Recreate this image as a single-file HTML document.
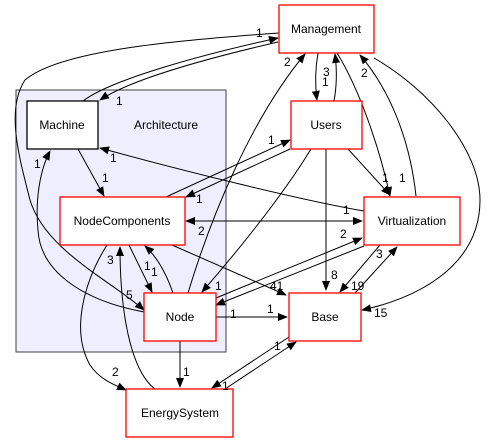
<!DOCTYPE html>
<html><head><style>body{margin:0;background:#fff}svg{display:block}text{font-family:"Liberation Sans",sans-serif;font-size:12px}</style></head><body>
<svg width="492" height="443" viewBox="0 0 492 443">
<defs><marker id="a" markerWidth="10" markerHeight="8" refX="9" refY="4" orient="auto" markerUnits="userSpaceOnUse"><path d="M0,0L10,4L0,8z" fill="#000"/></marker></defs>
<rect x="16" y="90" width="210" height="262" fill="#eeeeff" stroke="#404040" stroke-width="1"/>
<text x="134" y="129" font-size="12">Architecture</text>
<g fill="none" stroke="#000" stroke-width="1">
<path d="M279,33 C180,40 60,50 25,80 C5,110 20,160 30,200 C45,250 110,280 144,310" marker-end="url(#a)"/>
<path d="M83,101 C110,80 200,55 278,38" marker-end="url(#a)"/>
<path d="M278,42 C200,60 130,80 100,100" marker-end="url(#a)"/>
<path d="M78,149 L104,196" marker-end="url(#a)"/>
<path d="M144,312 C80,300 40,270 38,230 C35,200 40,170 50,151" marker-end="url(#a)"/>
<path d="M364,211 C300,200 180,170 100,148" marker-end="url(#a)"/>
<path d="M166,197 L290,140" marker-end="url(#a)"/>
<path d="M290,149 L186,197" marker-end="url(#a)"/>
<path d="M188,221 L362,221" marker-end="url(#a)"/>
<path d="M362,221 L186,221" marker-end="url(#a)"/>
<path d="M129,245 L152,292" marker-end="url(#a)"/>
<path d="M173,293 C165,270 155,255 145,246" marker-end="url(#a)"/>
<path d="M172,245 L286,295" marker-end="url(#a)"/>
<path d="M107,245 C85,280 70,330 90,365 C100,380 115,385 126,390" marker-end="url(#a)"/>
<path d="M155,389 C130,370 120,310 120,247" marker-end="url(#a)"/>
<path d="M188,293 C210,220 250,120 305,54" marker-end="url(#a)"/>
<path d="M318,53 C315,70 315,85 317,100" marker-end="url(#a)"/>
<path d="M334,101 C337,85 337,70 335,54" marker-end="url(#a)"/>
<path d="M337,53 C360,90 380,150 390,196" marker-end="url(#a)"/>
<path d="M416,196 C410,140 390,90 360,55" marker-end="url(#a)"/>
<path d="M374,58 C430,90 480,150 480,200 C480,270 410,300 362,310" marker-end="url(#a)"/>
<path d="M348,149 L390,195" marker-end="url(#a)"/>
<path d="M326,149 L326,290" marker-end="url(#a)"/>
<path d="M311,149 C280,200 230,260 202,292" marker-end="url(#a)"/>
<path d="M364,246 L216,305" marker-end="url(#a)"/>
<path d="M216,298 L362,238" marker-end="url(#a)"/>
<path d="M380,245 L340,292" marker-end="url(#a)"/>
<path d="M355,293 L397,247" marker-end="url(#a)"/>
<path d="M216,317 L287,317" marker-end="url(#a)"/>
<path d="M180,341 L180,387" marker-end="url(#a)"/>
<path d="M289,337 L212,388" marker-end="url(#a)"/>
<path d="M225,389 L296,342" marker-end="url(#a)"/>
</g>
<g fill="#fff" stroke-width="1.3">
<rect x="279" y="5" width="95" height="48" stroke="#f00"/>
<rect x="291" y="101" width="71" height="48" stroke="#f00"/>
<rect x="27" y="101" width="71" height="48" stroke="#000"/>
<rect x="60" y="197" width="125" height="48" stroke="#f00"/>
<rect x="364" y="197" width="96" height="48" stroke="#f00"/>
<rect x="144" y="293" width="72" height="48" stroke="#f00"/>
<rect x="289" y="293" width="72" height="48" stroke="#f00"/>
<rect x="126" y="389" width="107" height="48" stroke="#f00"/>
</g>
<g text-anchor="middle">
<text x="326" y="33">Management</text>
<text x="326" y="129">Users</text>
<text x="62" y="129">Machine</text>
<text x="122" y="225">NodeComponents</text>
<text x="412" y="225">Virtualization</text>
<text x="180" y="321">Node</text>
<text x="325" y="321">Base</text>
<text x="180" y="417">EnergySystem</text>
</g>
<g font-size="12">
<text x="256" y="37">1</text><text x="116" y="105">1</text><text x="284" y="66">2</text>
<text x="323" y="76">3</text><text x="322" y="86">1</text><text x="361" y="77">2</text>
<text x="34" y="168">1</text><text x="110" y="162">1</text><text x="102" y="182">1</text>
<text x="268" y="144">1</text><text x="196" y="203">1</text><text x="343" y="214">1</text>
<text x="198" y="235">2</text><text x="382" y="182">1</text><text x="399" y="182">1</text>
<text x="144" y="270">1</text><text x="151" y="276">1</text><text x="107" y="264">3</text>
<text x="126" y="299">5</text><text x="215" y="290">1</text><text x="270" y="290">41</text>
<text x="340" y="238">2</text><text x="376" y="258">3</text><text x="351" y="290">19</text>
<text x="331" y="279">8</text><text x="374" y="317">15</text><text x="230" y="318">1</text>
<text x="267" y="313">1</text><text x="183" y="376">1</text><text x="112" y="376">2</text>
<text x="274" y="350">1</text><text x="222" y="390">1</text>
</g>
</svg>
</body></html>
